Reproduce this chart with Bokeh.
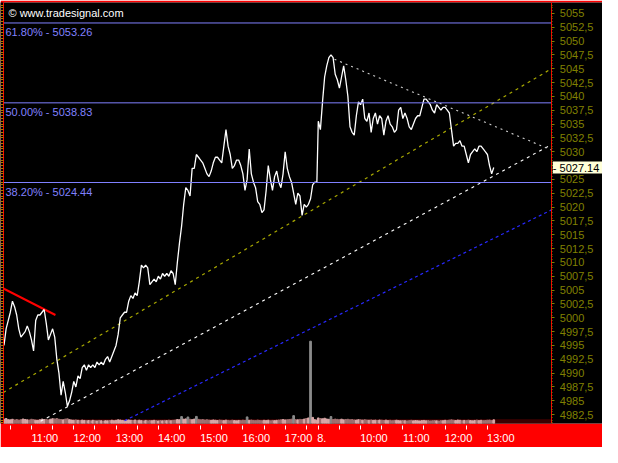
from bokeh.plotting import figure
from bokeh.models import (Range1d, LinearAxis, FixedTicker, Label,
                          BoxAnnotation, ColumnDataSource)
from bokeh.embed import file_html
from bokeh.resources import INLINE

FONT = "Liberation Sans"
FS = "11px"

# ---------------- data ----------------
# day 1 (7th): 3-minute closes from 10:21 to 17:45
d1_start = "10:21"
d1_close = [
    4995, 4998, 4999.5, 5001, 5003, 5002, 5000.5, 4998, 4996.5, 4997,
    4997.5, 4998.5, 4997.5, 4996, 4994, 4999.5, 5000.5, 5000.5, 5001, 5001.5,
    4999, 4996, 4997, 4998, 4996.5, 4992.5, 4990, 4986, 4988.5, 4986.5,
    4984, 4985, 4986.5, 4988.5, 4987.5, 4989.5, 4989, 4991, 4991.5, 4990.5,
    4991.5, 4991, 4991.5, 4991, 4992, 4991.5, 4992, 4991.5, 4992.5, 4993,
    4992, 4993, 4994, 4995, 4997, 5000, 5000.5, 5001, 5001, 5003,
    5004, 5003.5, 5004.5, 5004, 5006.5, 5009.5, 5009, 5009.5, 5009, 5006,
    5006.5, 5007, 5006.5, 5007.5, 5007, 5008, 5007.5, 5008, 5007.5, 5008.5,
    5008, 5006, 5010, 5013.5, 5016.5, 5020.5, 5023.5, 5023, 5022, 5027,
    5027, 5029.5, 5029, 5028.5, 5028, 5027, 5026, 5025.5, 5026.5, 5028,
    5029, 5029, 5028.5, 5028, 5031, 5034, 5031, 5029.5, 5027, 5027.5,
    5028.5, 5028.5, 5027.5, 5026, 5023, 5025, 5030.5, 5026, 5024.5, 5023.5,
    5021, 5020.5, 5019, 5019.5, 5023, 5027.5, 5025, 5023, 5025.5, 5026.5,
    5024.5, 5023.5, 5026, 5030, 5027, 5025.5, 5024.5, 5022.5, 5020.5, 5022.5,
    5022, 5018.5, 5020.5, 5020, 5020.5, 5021.5, 5024, 5024.5, 5024.5,
]
d1_vol = [
    45, 52, 40, 38, 44, 36, 41, 35, 39, 47,
    42, 38, 36, 44, 40, 35, 33, 39, 46, 41,
    43, 37, 45, 50, 48, 52, 44, 41, 38, 46,
    49, 40, 36, 34, 37, 33, 30, 35, 32, 29,
    31, 28, 33, 30, 27, 32, 29, 26, 30, 28,
    31, 34, 29, 33, 38, 36, 32, 30, 35, 37,
    33, 31, 36, 29, 34, 30, 27, 32, 28, 31,
    29, 33, 30, 27, 31, 28, 32, 30, 34, 29,
    33, 36, 41, 39, 72, 45, 48, 68, 44, 40,
    46, 74, 43, 38, 41, 36, 39, 35, 33, 37,
    34, 31, 36, 33, 30, 35, 32, 29, 34, 31,
    28, 32, 30, 34, 31, 69, 33, 36, 32, 30,
    35, 31, 29, 33, 30, 34, 28, 32, 30, 33,
    36, 38, 41, 37, 39, 42, 45, 82, 40, 38,
    43, 41, 46, 52, 58, 860, 64, 40, 35,
]
# day 2 (8th): 3-minute closes from 09:00 to 13:09
d2_start = "09:00"
d2_close = [
    5035.5, 5034, 5039, 5043.5, 5045.5, 5047, 5047.5, 5047, 5044, 5043,
    5041.5, 5043.5, 5045.5, 5043, 5040, 5034.5, 5033.5, 5033, 5036.5, 5039,
    5038.5, 5039.5, 5036, 5035.5, 5037, 5033.5, 5036, 5037, 5035, 5036.5,
    5036, 5033, 5035.5, 5036.5, 5035, 5034.5, 5033.5, 5034, 5037.5, 5038,
    5036, 5037, 5036, 5034.5, 5034, 5035, 5036, 5036.5, 5036.5, 5038,
    5039.5, 5039.5, 5039, 5038.5, 5037.5, 5037, 5038.5, 5038, 5037.5, 5038,
    5038, 5037.5, 5037, 5034, 5031, 5031.5, 5031.5, 5032, 5031, 5031,
    5029.5, 5028, 5029.5, 5030, 5030.5, 5030, 5031, 5031, 5030.5, 5030,
    5029.5, 5027.5, 5026, 5027.14,
]
d2_vol = [
    58, 52, 49, 55, 47, 44, 72, 41, 46, 43,
    40, 45, 38, 42, 44, 39, 41, 37, 36, 40,
    38, 35, 39, 36, 34, 37, 33, 35, 32, 36,
    34, 31, 35, 30, 33, 29, 32, 34, 30, 28,
    31, 29, 27, 30, 33, 28, 31, 29, 27, 30,
    32, 28, 30, 27, 29, 31, 28, 26, 30, 29,
    33, 30, 35, 38, 34, 31, 36, 33, 29, 32,
    30, 34, 31, 28, 32, 35, 30, 33, 29, 31,
    34, 36, 30, 38,
]
STEP_MIN = 3

# Fibonacci retracement levels
fib_pct = ["61.80%", "50.00%", "38.20%"]
fib_level = [5053.26, 5038.83, 5024.44]

# drawn trend lines: (day, time, price) pairs
red_trend = [(1, "10:20", 5005.3), (1, "11:34", 5000.5)]
olive_channel = [(1, "10:20", 4986.5), (2, "14:31", 5045.0)]
white_channel = [(1, "11:13", 4981.3), (2, "14:31", 5031.3)]
blue_channel = [(1, "13:12", 4981.4), (2, "14:31", 5019.5)]
triangle_line = [(2, "09:23", 5046.7), (2, "14:31", 5030.3)]

# axes
y_ticks = [4982.5, 4985, 4987.5, 4990, 4992.5, 4995, 4997.5, 5000, 5002.5, 5005,
           5007.5, 5010, 5012.5, 5015, 5017.5, 5020, 5022.5, 5025, 5027.5, 5030,
           5032.5, 5035, 5037.5, 5040, 5042.5, 5045, 5047.5, 5050, 5052.5, 5055]
y_labels = ["4982,5", "4985", "4987,5", "4990", "4992,5", "4995", "4997,5", "5000",
            "5002,5", "5005", "5007,5", "5010", "5012,5", "5015", "5017,5", "5020",
            "5022,5", "5025", "", "5030", "5032,5", "5035", "5037,5", "5040",
            "5042,5", "5045", "5047,5", "5050", "5052,5", "5055"]
x_label_times = [(1, "11:00"), (1, "12:00"), (1, "13:00"), (1, "14:00"), (1, "15:00"),
                 (1, "16:00"), (1, "17:00"), (2, "09:00"), (2, "10:00"), (2, "11:00"),
                 (2, "12:00"), (2, "13:00")]
x_labels = ["11:00", "12:00", "13:00", "14:00", "15:00", "16:00", "17:00", "8.",
            "10:00", "11:00", "12:00", "13:00"]

# ---------------- helpers ----------------
DAY2_OFFSET = 467  # session-minute index of day 2 09:00


def idx(day, hhmm):
    h, m = map(int, hhmm.split(":"))
    mins = h * 60 + m
    return mins - 600 if day == 1 else DAY2_OFFSET + mins - 540


x1 = [idx(1, d1_start) + STEP_MIN * i for i in range(len(d1_close))]
x2 = [idx(2, d2_start) + STEP_MIN * i for i in range(len(d2_close))]
xs = x1 + x2
closes = d1_close + d2_close
vols = d1_vol + d2_vol
vcolors = []
for i, v in enumerate(vols):
    up = i == 0 or closes[i] >= closes[i - 1]
    if v >= 65:
        vcolors.append("#8c8c8c")
    else:
        vcolors.append("#d8a8a8" if up else "#a07272")

X0 = 20.3          # left edge of the chart
X1 = 798.4         # position of the price scale
X_END = 870.3      # right edge of the window (area right of the scale)
Y0, Y1 = 4980.9, 5056.96

p = figure(width=602, height=447, x_range=Range1d(X0, X_END), y_range=Range1d(Y0, Y1),
           output_backend="svg", toolbar_location=None,
           x_axis_location=None, y_axis_location=None,
           background_fill_color="black", border_fill_color="red",
           min_border_left=3, min_border_right=0, min_border_top=2, min_border_bottom=24,
           outline_line_color=None)
p.grid.visible = False

p.extra_y_ranges = {"vol": Range1d(0, 4400)}

# volume band + bars
p.add_layout(BoxAnnotation(bottom=0, top=45, right=X1, y_range_name="vol",
                           fill_color="#3c0000", fill_alpha=1, line_color=None,
                           level="underlay"))
vsrc = ColumnDataSource(dict(x=xs, top=vols, color=vcolors))
p.vbar(x="x", top="top", bottom=0, width=2.4, color="color", y_range_name="vol", source=vsrc)


def draw(seg, color, dash, width=1.0):
    p.line([idx(d, t) for d, t, _ in seg], [v for _, _, v in seg],
           line_color=color, line_dash=dash, line_width=width)


draw(olive_channel, "#a8a800", "3 4", 1.2)
draw(white_channel, "#ffffff", "3 4", 1.1)
draw(blue_channel, "#2828ff", "3 3", 1.2)
draw(triangle_line, "#d0d0d0", "2 4", 1.1)
draw(red_trend, "#ff0000", "solid", 2)

# price line
p.line(xs, closes, line_color="white", line_width=1.3)

# fib levels
p.segment(x0=[X0] * len(fib_level), y0=fib_level, x1=[X1] * len(fib_level), y1=fib_level,
          line_color="#8080ff", line_width=1)
for pct, lvl in zip(fib_pct, fib_level):
    p.add_layout(Label(x=X0, y=lvl, x_offset=2, y_offset=-3, text=f"{pct} - {lvl:.2f}",
                       text_baseline="top", text_align="left", text_color="#8080ff",
                       text_font=FONT, text_font_size=FS))

p.add_layout(Label(x=X0, y=Y1, x_offset=5, y_offset=-4, text="\u00a9 www.tradesignal.com",
                   text_baseline="top", text_color="white", text_font=FONT,
                   text_font_size=FS))

# right price scale (fixed at X1, inside the window)
y_minor = [4981 + 0.5 * i for i in range(153)]
ra = LinearAxis(fixed_location=X1, ticker=FixedTicker(ticks=y_ticks, minor_ticks=y_minor),
                major_label_overrides=dict(zip(y_ticks, y_labels)),
                axis_line_color="red", major_tick_line_color="#808000",
                minor_tick_line_color="#808000", major_tick_out=3, major_tick_in=0,
                minor_tick_out=1, minor_tick_in=0, major_label_standoff=5,
                major_label_text_color="#808000", major_label_text_font=FONT,
                major_label_text_font_size=FS)
p.add_layout(ra, "right")

# left tick strip (minor ticks only, no labels)
la = LinearAxis(ticker=FixedTicker(ticks=[], minor_ticks=y_minor),
                axis_line_color="red", minor_tick_line_color="#b07800", minor_tick_out=3,
                minor_tick_in=0, major_tick_out=0, major_tick_in=0, major_label_standoff=0,
                background_fill_color="black")
p.add_layout(la, "left")

# bottom time axis
x_centers = [idx(d, t) + (5 if lab == "8." else 19) for (d, t), lab in zip(x_label_times, x_labels)]
half_hours = [30 * k for k in range(1, 16)] + [DAY2_OFFSET + 30 * k for k in range(0, 9)]
xa = LinearAxis(ticker=FixedTicker(ticks=x_centers, minor_ticks=half_hours),
                major_label_overrides=dict(zip(x_centers, x_labels)),
                axis_line_color=None, major_tick_out=0, major_tick_in=0,
                minor_tick_out=6, minor_tick_in=-2, minor_tick_line_color="white",
                major_label_standoff=2, major_label_text_color="white",
                major_label_text_font=FONT, major_label_text_font_size=FS)
p.add_layout(xa, "below")

# last price marker
p.add_layout(Label(x=X1, y=closes[-1], x_offset=1, text=f"- {closes[-1]:.2f}    ",
                   text_baseline="middle", text_align="left", text_color="black",
                   background_fill_color="#ffffd8", text_font=FONT,
                   text_font_size=FS, level="overlay"))

open("out.html", "w").write(file_html(p, INLINE))
